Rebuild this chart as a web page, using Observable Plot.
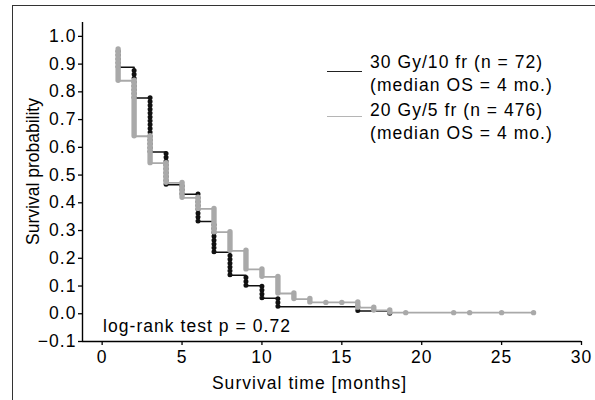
<!DOCTYPE html>
<html>
<head>
<meta charset="utf-8">
<script src="https://cdn.jsdelivr.net/npm/d3@7"></script>
<script src="https://cdn.jsdelivr.net/npm/@observablehq/plot@0.6"></script>
<style>
  html, body { margin: 0; padding: 0; background: #fff; }
  body { width: 595px; height: 400px; overflow: hidden; position: relative; }
  #frame { position: absolute; left: 12px; top: 4.5px; width: 700px; height: 500px; border: 1.6px solid #333; box-sizing: border-box; }
  #chart { position: absolute; left: 0; top: 0; }
  .leg { position: absolute; font-family: "Liberation Sans", Arial, sans-serif; font-size: 17.5px; letter-spacing: 1.05px; line-height: 18px; height: 18px; color: #000; white-space: nowrap; }
  .sw { position: absolute; height: 0; }
</style>
</head>
<body>
<div id="frame"></div>
<div id="chart"></div>
<script>
// ---- data ----
const xTicks = [0, 5, 10, 15, 20, 25, 30];
const yTicks = [-0.1, 0.0, 0.1, 0.2, 0.3, 0.4, 0.5, 0.6, 0.7, 0.8, 0.9, 1.0];

// 30 Gy/10 fr (black)
const blackStart = 0.95;
const blackTimes = [1, 2, 3, 4, 5, 6, 7, 8, 9, 10, 11, 16, 18];
const blackSurv  = [0.889, 0.778, 0.583, 0.465, 0.431, 0.333, 0.222, 0.139, 0.101, 0.056, 0.025, 0.010, 0.0];

// 20 Gy/5 fr (gray)
const grayStart = 0.953;
const grayTimes = [1, 2, 3, 4, 5, 6, 7, 8, 9, 10, 11, 12, 13, 16, 17, 18];
const graySurv  = [0.84, 0.64, 0.543, 0.472, 0.418, 0.378, 0.294, 0.227, 0.16, 0.133, 0.073, 0.053, 0.041, 0.022, 0.012, 0.004];
const grayCensorTimes = [14, 15, 19, 22, 23, 25, 27];
const grayCensorSurv  = [0.041, 0.041, 0.004, 0.004, 0.004, 0.004, 0.004];

const legendLabels = [
  ["30 Gy/10 fr (n = 72)", "(median OS = 4 mo.)"],
  ["20 Gy/5 fr (n = 476)", "(median OS = 4 mo.)"]
];
const xLabel = "Survival time [months]";
const yLabel = "Survival probability";
const testLabel = "log-rank test p = 0.72";

// ---- styling ----
const BLACK = "#111";
const GRAY = "#a9a9a9";
const xMin = -1.23, xMax = 30, yMin = -0.1, yMax = 1.05;

function stepPoints(start, times, surv, endTime) {
  const pts = [{t: times[0], s: start}];
  times.forEach((t, i) => pts.push({t, s: surv[i]}));
  if (endTime != null) pts.push({t: endTime, s: surv[surv.length - 1]});
  return pts;
}
function drops(start, times, surv) {
  return times.map((t, i) => ({t, lo: surv[i], hi: i === 0 ? start : surv[i - 1]}));
}

const blackLine = stepPoints(blackStart, blackTimes, blackSurv, null);
const grayLine = stepPoints(grayStart, grayTimes, graySurv, grayCensorTimes[grayCensorTimes.length - 1]);
const blackDrops = drops(blackStart, blackTimes, blackSurv);
const grayDrops = drops(grayStart, grayTimes, graySurv);
const grayCensor = grayCensorTimes.map((t, i) => ({t, s: grayCensorSurv[i]}));

const chart = Plot.plot({
  width: 595,
  height: 400,
  marginLeft: 82,
  marginRight: 14,
  marginTop: 22,
  marginBottom: 59,
  style: {fontFamily: '"Liberation Sans", Arial, sans-serif', fontSize: "17.5px", color: "#000", background: "transparent", letterSpacing: "1.05px"},
  x: {domain: [xMin, xMax]},
  y: {domain: [yMin, yMax]},
  marks: [
    Plot.axisX(xTicks, {tickSize: 4, tickPadding: 5, label: null, strokeWidth: 1.3}),
    Plot.axisY(yTicks, {tickSize: 4, tickPadding: 2, label: null, tickFormat: d3.format(".1f"), strokeWidth: 1.3}),
    Plot.ruleY([yMin], {stroke: "#000", strokeWidth: 1.4}),
    Plot.ruleX([xMin], {stroke: "#000", strokeWidth: 1.4}),
    // black curve
    Plot.line(blackLine, {x: "t", y: "s", curve: "step-after", stroke: BLACK, strokeWidth: 1.5}),
    Plot.ruleX(blackDrops, {x: "t", y1: "lo", y2: "hi", stroke: BLACK, strokeWidth: 5, strokeLinecap: "round", strokeDasharray: "0 3.85"}),
    // gray curve
    Plot.line(grayLine, {x: "t", y: "s", curve: "step-after", stroke: GRAY, strokeWidth: 1.8}),
    Plot.ruleX(grayDrops, {x: "t", y1: "lo", y2: "hi", stroke: GRAY, strokeWidth: 5.4, strokeLinecap: "round"}),
    Plot.dot(grayCensor, {x: "t", y: "s", r: 2.7, fill: GRAY, stroke: null}),
    // texts
    Plot.text([testLabel], {frameAnchor: "bottom-left", textAnchor: "start", lineAnchor: "middle", dx: 20.5, dy: -14.7, fill: "#000"}),
    Plot.text([xLabel], {frameAnchor: "bottom", textAnchor: "middle", lineAnchor: "middle", dx: -22.5, dy: 41.6, fill: "#000"}),
    Plot.text([yLabel], {frameAnchor: "left", textAnchor: "middle", lineAnchor: "middle", rotate: -90, dx: -49.6, dy: -10.5, fill: "#000"})
  ]
});
document.getElementById("chart").appendChild(chart);
d3.select(chart).selectAll("text").filter(function () { return this.textContent === yLabel; }).style("letter-spacing", "0px");

// ---- legend (HTML overlay) ----
const legendLayout = [
  {top: 53.1, swatchY: 71.5, color: "#222", width: 1.6},
  {top: 100.5, swatchY: 117, color: "#b5b5b5", width: 1.3}
];
const rowGap = 23;
const body = document.body;
legendLabels.forEach((lines, i) => {
  const L = legendLayout[i];
  const sw = document.createElement("div");
  sw.className = "sw";
  sw.style.left = "326.7px";
  sw.style.width = "35px";
  sw.style.top = (L.swatchY - L.width / 2) + "px";
  sw.style.borderTop = L.width + "px solid " + L.color;
  body.appendChild(sw);
  lines.forEach((s, j) => {
    const tx = document.createElement("div");
    tx.className = "leg";
    tx.style.left = "370px";
    tx.style.top = (L.top + j * rowGap) + "px";
    tx.textContent = s;
    body.appendChild(tx);
  });
});
</script>
</body>
</html>
